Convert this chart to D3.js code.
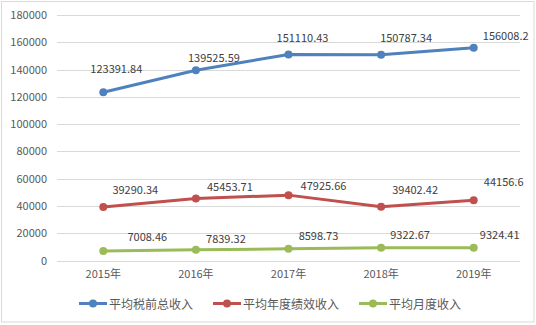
<!DOCTYPE html>
<html>
<head>
<meta charset="utf-8">
<script src="https://cdn.jsdelivr.net/npm/d3@7/dist/d3.min.js"></script>
<style>
  html, body { margin: 0; padding: 0; background: #fff; }
  svg { display: block; }
  text { font-family: "Noto Sans CJK SC", "Microsoft YaHei", sans-serif; }
</style>
</head>
<body>
<svg id="chart" width="536" height="325"></svg>
<script>
// Categories and series
const years = ["2015年", "2016年", "2017年", "2018年", "2019年"];
const pretaxIncome = [123391.84, 139525.59, 151110.43, 150787.34, 156008.2];
const annualBonus = [39290.34, 45453.71, 47925.66, 39402.42, 44156.6];
const monthlyIncome = [7008.46, 7839.32, 8598.73, 9322.67, 9324.41];
const seriesNames = ["平均税前总收入", "平均年度绩效收入", "平均月度收入"];
const yTicks = [0, 20000, 40000, 60000, 80000, 100000, 120000, 140000, 160000, 180000];

// Hand-placed value label offsets (dx, dy) from each point
const pretaxLabelOffsets = [[13, -24], [18, -13], [14, -17], [25, -18], [32, -13]];
const bonusLabelOffsets = [[32, -18], [34, -13], [35, -10], [34, -18], [30, -19]];
const monthlyLabelOffsets = [[44, -15], [30, -12], [30, -14], [29, -14], [26, -14]];

const colors = ["#4f81bd", "#c0504d", "#9bbb59"];

const series = [
  { name: seriesNames[0], values: pretaxIncome, offsets: pretaxLabelOffsets, color: colors[0] },
  { name: seriesNames[1], values: annualBonus, offsets: bonusLabelOffsets, color: colors[1] },
  { name: seriesNames[2], values: monthlyIncome, offsets: monthlyLabelOffsets, color: colors[2] }
];

const svg = d3.select("#chart");

// Chart frame
svg.append("rect")
  .attr("x", 1.5).attr("y", 1.5)
  .attr("width", 532.5).attr("height", 320.5)
  .attr("fill", "#fff")
  .attr("stroke", "#d9d9d9").attr("stroke-width", 1);

const x = d3.scaleBand().domain(years).range([57, 520]);
const y = d3.scaleLinear().domain([0, 180000]).range([260.5, 15]);
const cx = d => x(d) + x.bandwidth() / 2;

// Horizontal gridlines + y axis labels
const yAxis = d3.axisLeft(y)
  .tickValues(yTicks)
  .tickSize(-(520 - 57))
  .tickPadding(10)
  .tickFormat(d3.format("d"));

const gy = svg.append("g")
  .attr("transform", "translate(57,0)")
  .call(yAxis);
gy.select(".domain").remove();
gy.selectAll(".tick line")
  .attr("stroke", "#d9d9d9").attr("stroke-width", 1)
  .attr("shape-rendering", "crispEdges");
gy.selectAll(".tick text")
  .attr("fill", "#595959")
  .style("font-size", "11px");

// X axis labels
const xAxis = d3.axisBottom(x).tickSize(0).tickPadding(10);
const gx = svg.append("g")
  .attr("transform", "translate(0,260.5)")
  .call(xAxis);
gx.select(".domain").remove();
gx.selectAll(".tick text")
  .attr("fill", "#595959")
  .style("font-size", "11px");

// Lines, markers and value labels
const line = d3.line()
  .x((d, i) => cx(years[i]))
  .y(d => y(d));

series.forEach(s => {
  const g = svg.append("g");
  g.append("path")
    .datum(s.values)
    .attr("d", line)
    .attr("fill", "none")
    .attr("stroke", s.color)
    .attr("stroke-width", 3)
    .attr("stroke-linejoin", "round")
    .attr("stroke-linecap", "round");
  g.selectAll("circle")
    .data(s.values)
    .join("circle")
    .attr("cx", (d, i) => cx(years[i]))
    .attr("cy", d => y(d))
    .attr("r", 4)
    .attr("fill", s.color);
  g.selectAll("text")
    .data(s.values)
    .join("text")
    .attr("x", (d, i) => cx(years[i]) + s.offsets[i][0])
    .attr("y", (d, i) => y(d) + s.offsets[i][1])
    .attr("text-anchor", "middle")
    .attr("dominant-baseline", "central")
    .attr("fill", "#404040")
    .style("font-size", "11px")
    .text(d => String(d));
});

// Legend
const legendItems = [
  { x: 79, s: series[0] },
  { x: 213, s: series[1] },
  { x: 359, s: series[2] }
];
const ly = 303.5;
legendItems.forEach(item => {
  const g = svg.append("g");
  g.append("line")
    .attr("x1", item.x).attr("x2", item.x + 28)
    .attr("y1", ly).attr("y2", ly)
    .attr("stroke", item.s.color).attr("stroke-width", 3);
  g.append("circle")
    .attr("cx", item.x + 14).attr("cy", ly).attr("r", 4)
    .attr("fill", item.s.color);
  g.append("text")
    .attr("x", item.x + 30).attr("y", ly)
    .attr("dominant-baseline", "central")
    .attr("fill", "#595959")
    .style("font-size", "12px")
    .text(item.s.name);
});
</script>
</body>
</html>
